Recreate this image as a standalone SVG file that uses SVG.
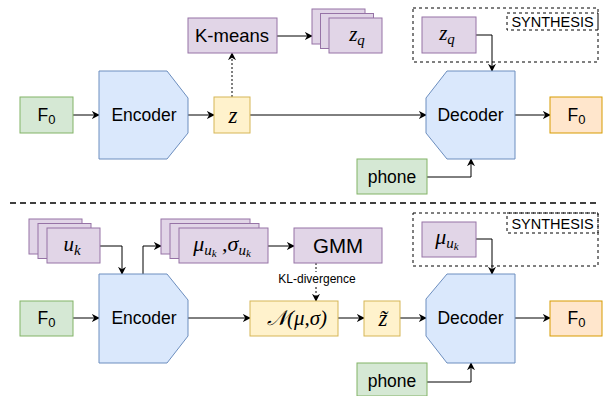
<svg xmlns="http://www.w3.org/2000/svg" width="603" height="396" viewBox="0 0 603 396">
<style>
.t{font-family:"Liberation Sans",Arial,sans-serif;font-size:17.5px;fill:#000;text-anchor:middle;dominant-baseline:central}
.m{font-family:"Liberation Serif","Times New Roman",serif;font-style:italic;font-size:21px;fill:#000;text-anchor:middle}
.green{fill:#d5e8d4;stroke:#82b366;stroke-width:1}
.blue{fill:#dae8fc;stroke:#6c8ebf;stroke-width:1}
.yellow{fill:#fff2cc;stroke:#d6b656;stroke-width:1}
.purple{fill:#e1d5e7;stroke:#9673a6;stroke-width:1}
.orange{fill:#ffe6cc;stroke:#d79b00;stroke-width:1}
.syn{fill:none;stroke:#000;stroke-width:1;stroke-dasharray:3 3}
.c{fill:none;stroke:#000;stroke-width:1;marker-end:url(#ah)}
.dot{fill:none;stroke:#000;stroke-width:1;stroke-dasharray:2 2;marker-end:url(#ah)}
</style>
<defs>
<marker id="ah" viewBox="0 0 10 10" refX="9" refY="5" markerWidth="8" markerHeight="8" markerUnits="userSpaceOnUse" orient="auto">
<path d="M0,0 L10,5 L0,10 L3,5 z" fill="#000"/>
</marker>
</defs>

<!-- separator -->
<line x1="10" y1="203" x2="600" y2="203" stroke="#000" stroke-width="1.5" stroke-dasharray="6 4"/>

<g id="connectors">
<!-- top -->
<path class="c" d="M73,115 H99"/>
<path class="c" d="M188,115 H214"/>
<path class="dot" d="M232,97 V53"/>
<path class="c" d="M277,36 H312"/>
<path class="c" d="M250,115 H426"/>
<path class="c" d="M476,35 H492 V71"/>
<path class="c" d="M515,115 H550"/>
<path class="c" d="M427,177 H471 V159"/>
<!-- bottom -->
<path class="c" d="M100,246 H122 V274"/>
<path class="c" d="M143,274 V246 H161"/>
<path class="c" d="M268,246 H294"/>
<path class="dot" d="M316,263 V301"/>
<path class="c" d="M73,318 H99"/>
<path class="c" d="M188,318 H250"/>
<path class="c" d="M338,318 H364"/>
<path class="c" d="M400,318 H426"/>
<path class="c" d="M476,239 H492 V274"/>
<path class="c" d="M515,318 H550"/>
<path class="c" d="M427,382 H471 V363"/>
</g>
<g id="kl-label">
<rect x="276" y="272" width="82" height="14" fill="#fff"/>
<text x="317" y="279" class="t" style="font-size:12px">KL-divergence</text>
</g>

<!-- TOP -->
<g id="f0-in-top"><rect class="green" x="20" y="97" width="53" height="36"/><text class="t" x="46.5" y="115">F<tspan dy="4" font-size="13">0</tspan></text></g>
<g id="encoder-top"><path class="blue" d="M99,71 H167 L188,98 V133 L167,159 H99 Z"/><text class="t" x="144" y="115">Encoder</text></g>
<g id="z-top"><rect class="yellow" x="214" y="97" width="36" height="36"/><text class="m" x="233" y="123" style="font-size:23px">z</text></g>
<g id="kmeans"><rect class="purple" x="188" y="18" width="89" height="35"/><text class="t" x="232" y="35.5" style="font-size:18.5px">K-means</text></g>
<g id="zq-stack">
<rect class="purple" x="312" y="9" width="53" height="35"/>
<rect class="purple" x="320.5" y="13.5" width="53" height="35"/>
<rect class="purple" x="329" y="18" width="53" height="35"/>
<text class="m" x="357" y="41">z<tspan dy="4" font-size="15">q</tspan></text>
</g>
<g id="synthesis-top">
<rect class="syn" x="413" y="8" width="185" height="54"/>
<rect class="syn" x="507" y="13" width="91" height="17"/>
<text class="t" x="552.5" y="21.5" style="font-size:14.5px">SYNTHESIS</text>
</g>
<g id="zq-syn"><rect class="purple" x="422" y="17" width="54" height="36"/><text class="m" x="447" y="40">z<tspan dy="4" font-size="15">q</tspan></text></g>
<g id="decoder-top"><path class="blue" d="M447,71 H515 V159 H447 L426,133 V98 Z"/><text class="t" x="470.5" y="115">Decoder</text></g>
<g id="f0-out-top"><rect class="orange" x="550" y="97" width="52" height="36"/><text class="t" x="576.5" y="115">F<tspan dy="4" font-size="13">0</tspan></text></g>
<g id="phone-top"><rect class="green" x="357" y="159" width="70" height="35"/><text class="t" x="392" y="176.5">phone</text></g>

<!-- BOTTOM -->
<g id="uk-stack">
<rect class="purple" x="29" y="219" width="53" height="35"/>
<rect class="purple" x="38" y="223.5" width="53" height="35"/>
<rect class="purple" x="47" y="228" width="53" height="35"/>
<text class="m" x="72" y="251">u<tspan dy="4" font-size="15">k</tspan></text>
</g>
<g id="f0-in-bottom"><rect class="green" x="20" y="301" width="53" height="35"/><text class="t" x="46.5" y="318">F<tspan dy="4" font-size="13">0</tspan></text></g>
<g id="encoder-bottom"><path class="blue" d="M99,274 H167 L188,300 V336 L167,363 H99 Z"/><text class="t" x="144" y="318">Encoder</text></g>
<g id="musigma-stack">
<rect class="purple" x="161" y="219" width="89" height="35"/>
<rect class="purple" x="170" y="223.5" width="89" height="35"/>
<rect class="purple" x="179" y="228" width="89" height="35"/>
<text class="m" x="222" y="251" style="font-size:22px">μ<tspan dy="4" font-size="15">u</tspan><tspan dy="2" font-size="11">k</tspan><tspan dy="-6"> ,</tspan>σ<tspan dy="4" font-size="15">u</tspan><tspan dy="2" font-size="11">k</tspan></text>
</g>
<g id="gmm"><rect class="purple" x="294" y="228" width="88" height="35"/><text class="t" x="338" y="245.5" style="font-size:20.5px">GMM</text></g>
<g id="normal"><rect class="yellow" x="250" y="301" width="88" height="35"/><text class="m" x="297" y="325" style="font-size:21px">𝒩(μ,σ)</text></g>
<g id="ztilde"><rect class="yellow" x="364" y="301" width="36" height="35"/><text class="m" x="383" y="326" style="font-size:23px">z̃</text></g>
<g id="synthesis-bottom">
<rect class="syn" x="413" y="213" width="185" height="53"/>
<rect class="syn" x="507" y="213" width="91" height="20"/>
<text class="t" x="552.5" y="223.5" style="font-size:14.5px">SYNTHESIS</text>
</g>
<g id="mu-syn"><rect class="purple" x="422" y="222" width="54" height="35"/><text class="m" x="447" y="244" style="font-size:22px">μ<tspan dy="4" font-size="15">u</tspan><tspan dy="2" font-size="11">k</tspan></text></g>
<g id="decoder-bottom"><path class="blue" d="M447,274 H515 V363 H447 L426,336 V299 Z"/><text class="t" x="470.5" y="318">Decoder</text></g>
<g id="f0-out-bottom"><rect class="orange" x="550" y="301" width="52" height="35"/><text class="t" x="576.5" y="318">F<tspan dy="4" font-size="13">0</tspan></text></g>
<g id="phone-bottom"><rect class="green" x="357" y="363" width="70" height="33"/><text class="t" x="392" y="381">phone</text></g>
</svg>
